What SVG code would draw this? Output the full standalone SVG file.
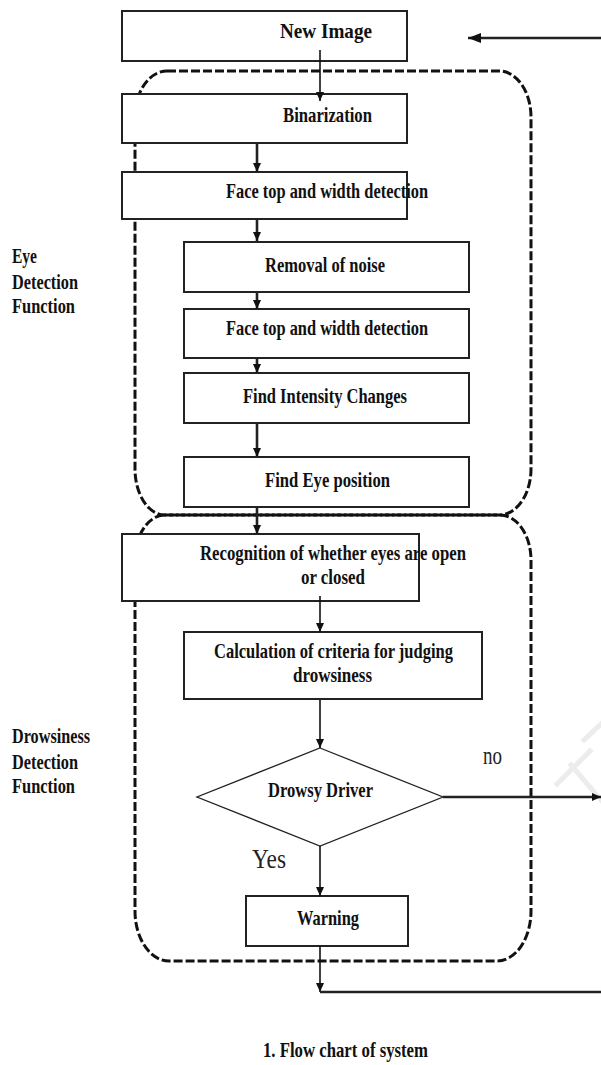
<svg xmlns="http://www.w3.org/2000/svg" width="601" height="1065" viewBox="0 0 601 1065">
<style>
.t{font-family:"Liberation Serif","Times New Roman",serif;font-weight:bold;font-size:21px;fill:#111}
.r{font-family:"Liberation Serif","Times New Roman",serif;font-weight:normal;fill:#222}
.box{fill:#fff;stroke:#222;stroke-width:2}
.dash{fill:none;stroke:#111;stroke-width:3;stroke-dasharray:9 3}
.ln{fill:none;stroke:#111;stroke-width:1.6}
.thick{fill:none;stroke:#222;stroke-width:2.6}
.wm{fill:none;stroke:#ececec;stroke-width:5;stroke-linecap:square}
</style>
<defs>
<marker id="ah" markerUnits="userSpaceOnUse" markerWidth="9" markerHeight="9" refX="9" refY="4" orient="auto">
<path d="M0,0 L9,4 L0,8 z" fill="#111"/>
</marker>
<marker id="ahb" markerUnits="userSpaceOnUse" markerWidth="13" markerHeight="10" refX="13" refY="5" orient="auto">
<path d="M0,0 L13,5 L0,10 z" fill="#111"/>
</marker>
</defs>
<rect width="601" height="1065" fill="#fff"/>

<g id="watermark">
<path class="wm" d="M557,784 L590,751"/>
<path class="wm" d="M571,765 L601,800"/>
<path class="wm" d="M584,740 L601,724"/>
</g>

<g id="eye-group">
<path class="dash" d="M167,71 H499 A32,46 0 0 1 531,117 V469 A32,46 0 0 1 500,515 H164 A30,46 0 0 1 135,469 V117 A32,46 0 0 1 167,71 Z"/>
</g>
<g id="drowsiness-group">
<path class="dash" d="M164,515 H500 A31,45 0 0 1 531,560 V911 A34,50 0 0 1 497,961 H169 A34,50 0 0 1 135,911 V560 A30,45 0 0 1 164,515 Z"/>
</g>

<g id="labels">
<text class="t"><tspan x="12" y="263" textLength="25" lengthAdjust="spacingAndGlyphs">Eye</tspan><tspan x="12" y="289" textLength="66" lengthAdjust="spacingAndGlyphs">Detection</tspan><tspan x="12" y="313" textLength="63" lengthAdjust="spacingAndGlyphs">Function</tspan></text>
<text class="t"><tspan x="12" y="743" textLength="78" lengthAdjust="spacingAndGlyphs">Drowsiness</tspan><tspan x="12" y="769" textLength="66" lengthAdjust="spacingAndGlyphs">Detection</tspan><tspan x="12" y="793" textLength="63" lengthAdjust="spacingAndGlyphs">Function</tspan></text>
</g>

<g id="n-new-image">
<rect class="box" x="122" y="11" width="285" height="50"/>
<text class="t" x="280" y="38" textLength="92" lengthAdjust="spacingAndGlyphs">New Image</text>
</g>
<g id="n-binarization">
<rect class="box" x="122" y="94" width="285" height="49"/>
<text class="t" x="283" y="122" textLength="89" lengthAdjust="spacingAndGlyphs">Binarization</text>
</g>
<g id="n-face1">
<rect class="box" x="122" y="172" width="285" height="47"/>
<text class="t" x="226" y="198" textLength="202" lengthAdjust="spacingAndGlyphs">Face top and width detection</text>
</g>
<g id="n-removal">
<rect class="box" x="184" y="242" width="285" height="50"/>
<text class="t" x="265" y="272" textLength="120" lengthAdjust="spacingAndGlyphs">Removal of noise</text>
</g>
<g id="n-face2">
<rect class="box" x="184" y="309" width="285" height="49"/>
<text class="t" x="226" y="335" textLength="202" lengthAdjust="spacingAndGlyphs">Face top and width detection</text>
</g>
<g id="n-intensity">
<rect class="box" x="184" y="373" width="285" height="50"/>
<text class="t" x="243" y="403" textLength="164" lengthAdjust="spacingAndGlyphs">Find Intensity Changes</text>
</g>
<g id="n-eye-pos">
<rect class="box" x="184" y="457" width="285" height="50"/>
<text class="t" x="265" y="487" textLength="125" lengthAdjust="spacingAndGlyphs">Find Eye position</text>
</g>
<g id="n-recognition">
<rect class="box" x="122" y="534" width="297" height="67"/>
<text class="t" x="200" y="560" textLength="266" lengthAdjust="spacingAndGlyphs">Recognition of whether eyes  are open</text>
<text class="t" x="301" y="584" textLength="64" lengthAdjust="spacingAndGlyphs">or closed</text>
</g>
<g id="n-calculation">
<rect class="box" x="184" y="632" width="298" height="67"/>
<text class="t" x="214" y="658" textLength="239" lengthAdjust="spacingAndGlyphs">Calculation of criteria for judging</text>
<text class="t" x="293" y="682" textLength="79" lengthAdjust="spacingAndGlyphs">drowsiness</text>
</g>
<g id="n-drowsy">
<path d="M320,748 L443,797 L320,846 L197,797 Z" fill="#fff" stroke="#222" stroke-width="1.3"/>
<text class="t" x="268" y="797" textLength="105" lengthAdjust="spacingAndGlyphs">Drowsy Driver</text>
</g>
<g id="n-warning">
<rect class="box" x="246" y="896" width="162" height="50"/>
<text class="t" x="297" y="925" textLength="62" lengthAdjust="spacingAndGlyphs">Warning</text>
</g>

<g id="connectors">
<path class="ln" d="M320,50 V101" marker-end="url(#ah)"/>
<path class="thick" d="M257,143 V172" marker-end="url(#ah)"/>
<path class="thick" d="M257,219 V241" marker-end="url(#ah)"/>
<path class="thick" d="M257,292 V309" marker-end="url(#ah)"/>
<path class="thick" d="M257,358 V373" marker-end="url(#ah)"/>
<path class="thick" d="M257,423 V457" marker-end="url(#ah)"/>
<path class="thick" d="M257,507 V534" marker-end="url(#ah)"/>
<path class="ln" d="M320,596 V632" marker-end="url(#ah)"/>
<path class="ln" d="M320,700 V748" marker-end="url(#ah)"/>
<path class="ln" d="M320,846 V896" marker-end="url(#ah)"/>
<path class="thick" d="M443,797 H601" marker-end="url(#ah)"/>
<path class="ln" d="M320,946 V992" marker-end="url(#ah)"/>
<path class="thick" d="M320,992 H601"/>
<path class="thick" d="M601,38 H468" marker-end="url(#ahb)"/>
<text class="r" x="483" y="764" font-size="26" textLength="19" lengthAdjust="spacingAndGlyphs">no</text>
<text class="r" x="252" y="868" font-size="28" textLength="34" lengthAdjust="spacingAndGlyphs">Yes</text>
</g>

<g id="caption">
<text class="t" x="263" y="1057" textLength="165" lengthAdjust="spacingAndGlyphs">1. Flow chart of system</text>
</g>
</svg>
